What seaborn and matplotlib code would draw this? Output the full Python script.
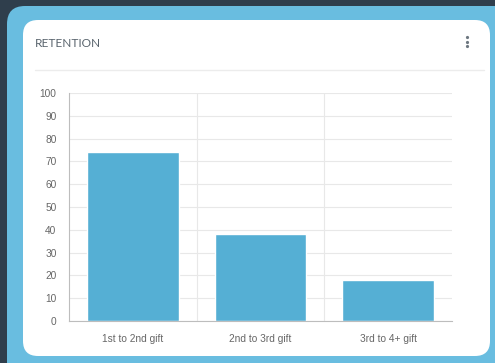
import matplotlib
matplotlib.use("Agg")
import matplotlib.pyplot as plt
import seaborn as sns
from matplotlib.patches import FancyBboxPatch

# Data
categories = ['1st to 2nd gift', '2nd to 3rd gift', '3rd to 4+ gift']
retention = [74, 38, 18]
y_ticks = list(range(0, 101, 10))

W, H = 495, 363
sns.set_style("white")
plt.rcParams['font.family'] = ['Liberation Sans', 'DejaVu Sans']

fig = plt.figure(figsize=(W / 100, H / 100), dpi=100)
fig.patch.set_facecolor('#2f3e4c')

# Card background drawn in pixel coordinates
bg = fig.add_axes([0, 0, 1, 1], zorder=0)
bg.set_xlim(0, W)
bg.set_ylim(H, 0)
bg.axis('off')
bg.add_patch(FancyBboxPatch((7, 6), 520, 400, boxstyle="round,pad=0,rounding_size=18",
                            fc='#69bde0', ec='none'))
bg.add_patch(FancyBboxPatch((23, 20), 467, 336, boxstyle="round,pad=0,rounding_size=15",
                            fc='white', ec='none'))
bg.text(35, 43.5, 'RETENTION', fontsize=8.6, color='#59646d', va='center', ha='left',
        family=['Lato', 'DejaVu Sans'])
bg.plot([35, 484], [70, 70], color='#ececec', lw=1)
for yy in (37, 41.5, 46):
    bg.plot(467, yy, 'o', ms=2.3, color='#6d7780', mec='none')

# Bar chart
ax = fig.add_axes([69 / W, (H - 321) / H, (452 - 69) / W, (321 - 93) / H], zorder=1)
ax.patch.set_alpha(0)
sns.barplot(x=categories, y=retention, color='#55afd4', saturation=1, width=0.72, ax=ax)
ax.set_ylim(0, 100)
ax.set_xlim(-0.5, 2.5)
ax.set_yticks(y_ticks)
ax.yaxis.grid(True, color='#e8e8e8', lw=0.8)
ax.set_axisbelow(True)
for xb in (0.5, 1.5):
    ax.axvline(xb, color='#e8e8e8', lw=0.8, zorder=0)
for s in ('top', 'right'):
    ax.spines[s].set_visible(False)
for s in ('left', 'bottom'):
    ax.spines[s].set_color('#bdbdbd')
    ax.spines[s].set_linewidth(0.8)
ax.tick_params(axis='y', length=7, width=0.8, color='#e0e0e0', labelsize=7.3,
               labelcolor='#666666', pad=2)
ax.tick_params(axis='x', which='major', length=0, labelsize=7.3, labelcolor='#666666', pad=9)
ax.set_xticks([-0.5, 0.5, 1.5], minor=True)
ax.tick_params(axis='x', which='minor', length=7, width=0.8, color='#e0e0e0')
ax.set_xlabel('')
ax.set_ylabel('')

fig.savefig('out.png', dpi=100)
